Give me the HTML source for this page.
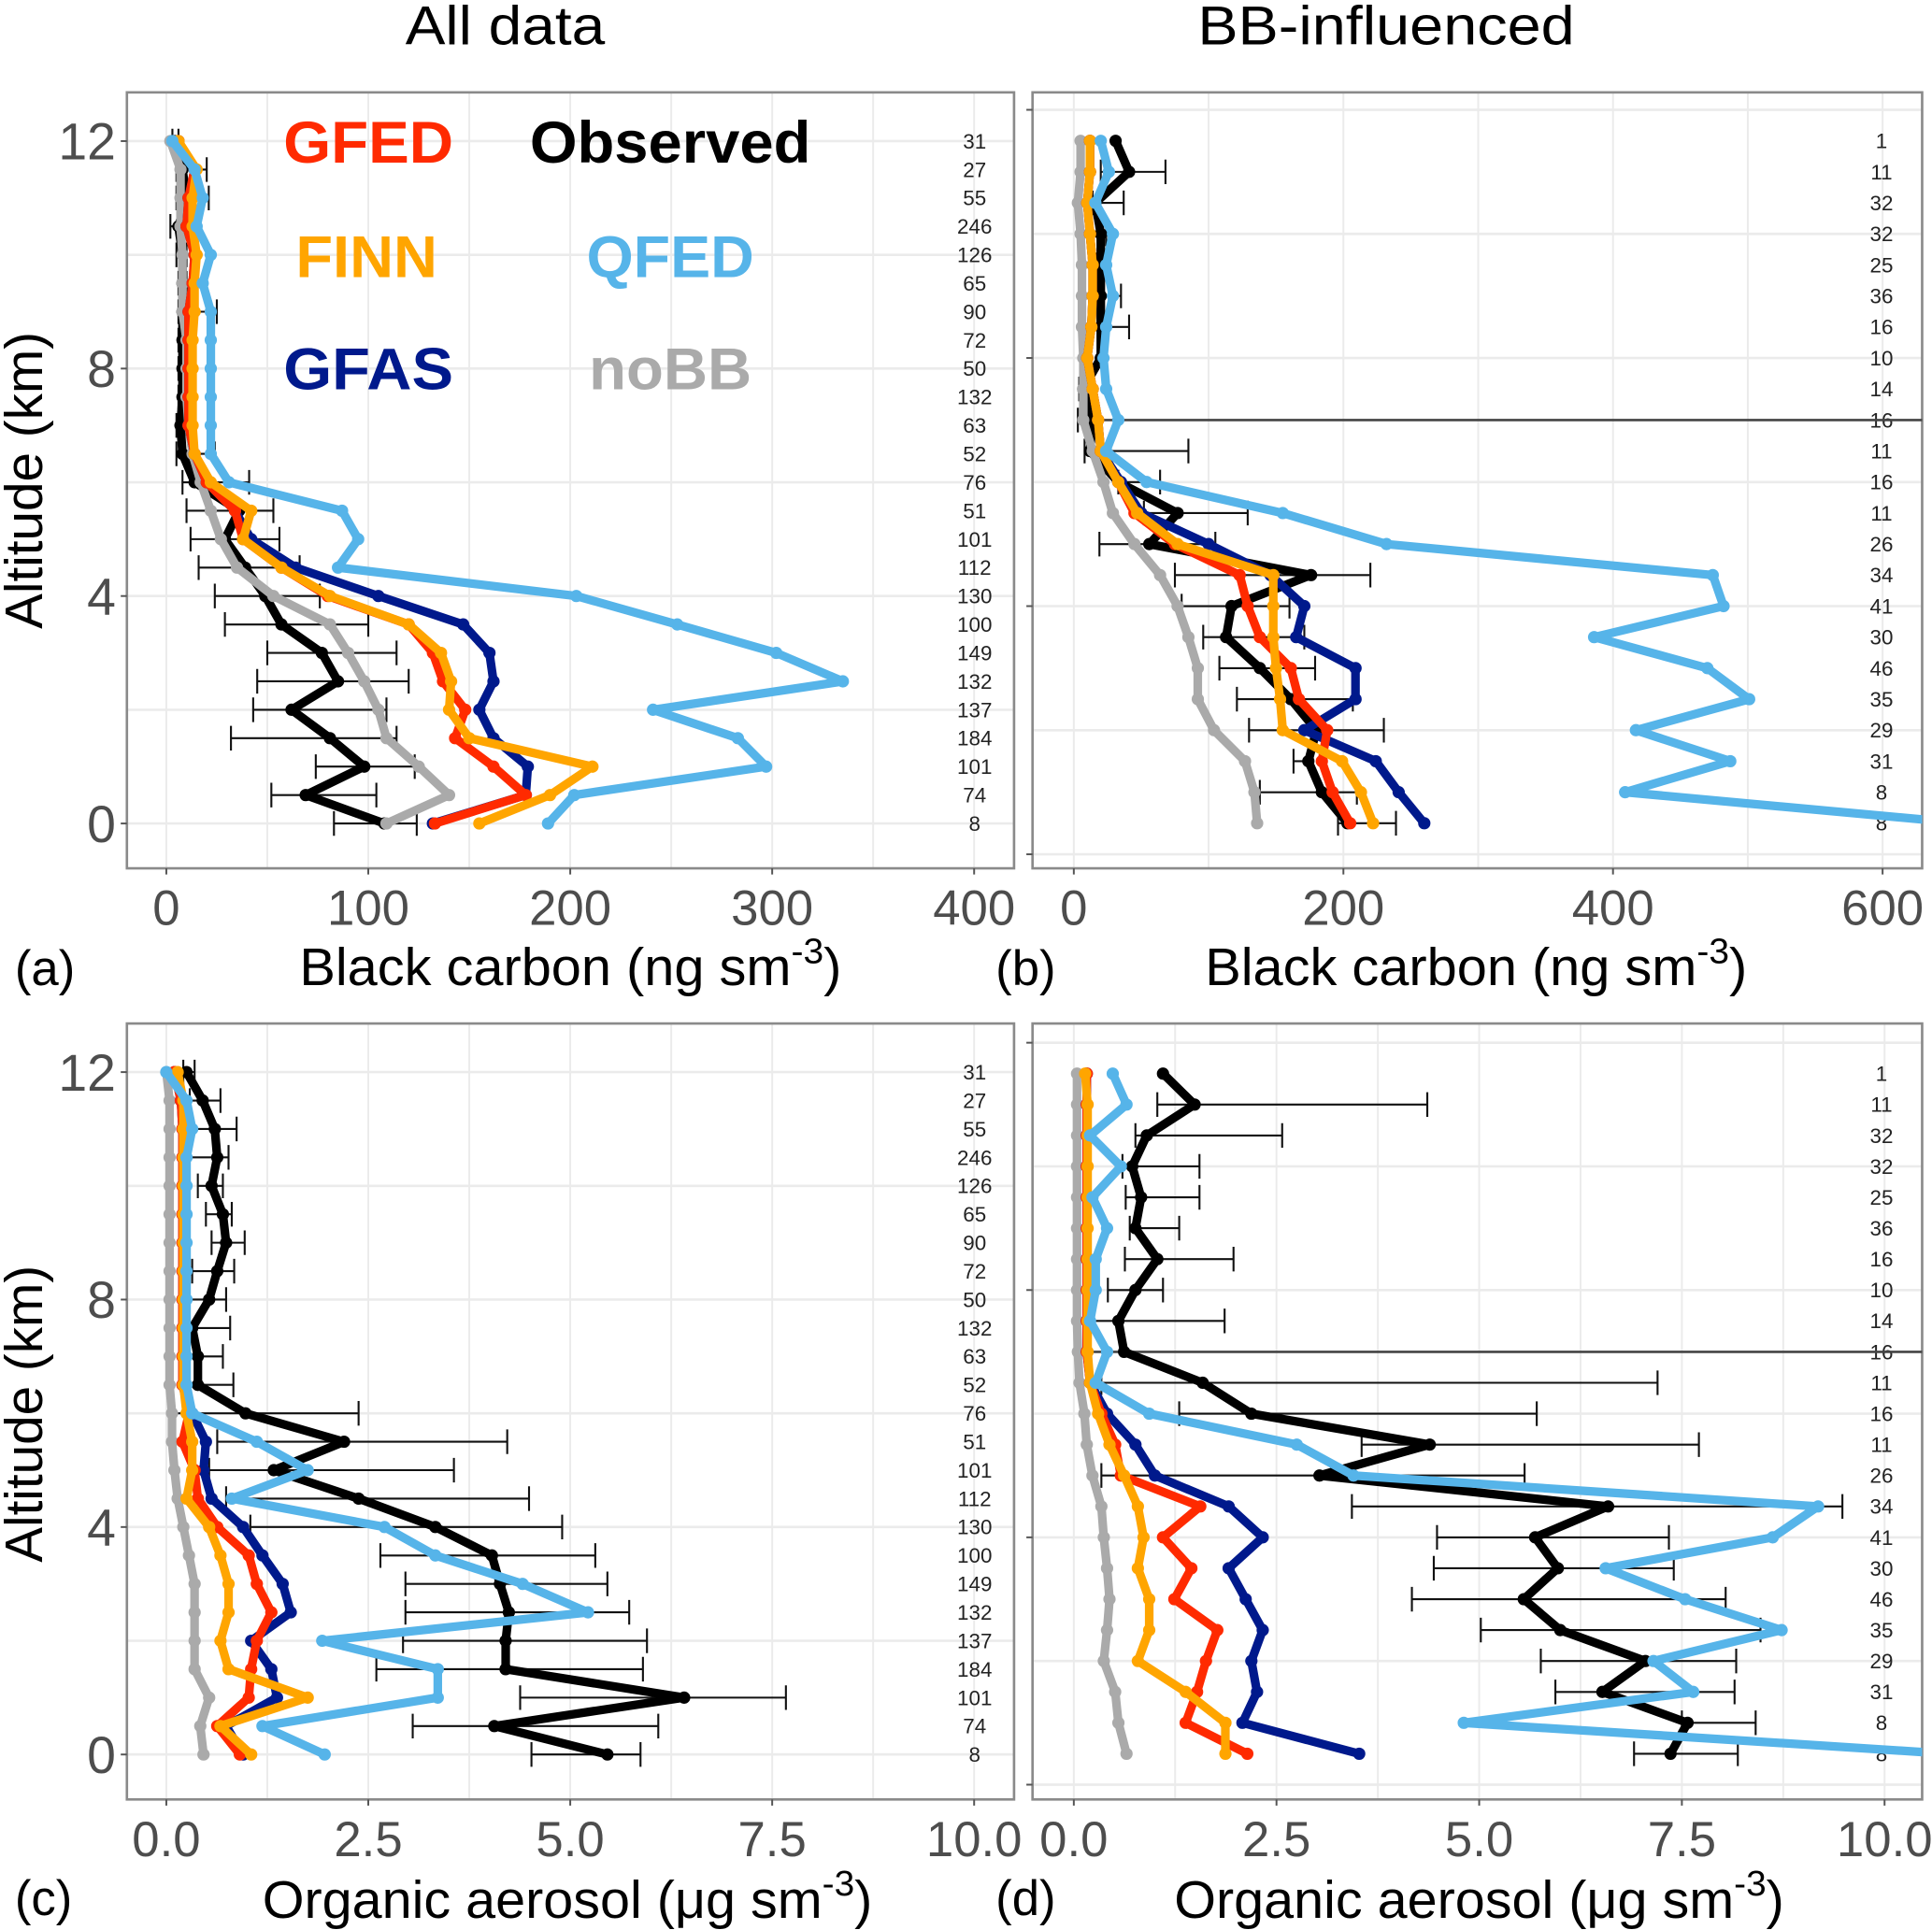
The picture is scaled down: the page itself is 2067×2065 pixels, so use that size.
<!DOCTYPE html>
<html><head><meta charset="utf-8">
<style>
html,body{margin:0;padding:0;background:#fff;}
svg{display:block;font-family:"Liberation Sans",sans-serif;}
</style></head>
<body>
<svg id="fig" width="2067" height="2065" viewBox="0 0 1568 1567" preserveAspectRatio="none" xmlns="http://www.w3.org/2000/svg">
<text x="410" y="36" font-size="44" text-anchor="middle" textLength="162" lengthAdjust="spacingAndGlyphs">All data</text>
<text x="1125" y="36" font-size="44" text-anchor="middle" textLength="306" lengthAdjust="spacingAndGlyphs">BB-influenced</text>
<g id="layer"></g>
</svg>
<script>
// ---------- data: altitudes ----------
const altA = [12,11.5,11,10.5,10,9.5,9,8.5,8,7.5,7,6.5,6,5.5,5,4.5,4,3.5,3,2.5,2,1.5,1,0.5,0];
const altB = [11.5,11,10.5,10,9.5,9,8.5,8,7.5,7,6.5,6,5.5,5,4.5,4,3.5,3,2.5,2,1.5,1,0.5];
const countsA = [31,27,55,246,126,65,90,72,50,132,63,52,76,51,101,112,130,100,149,132,137,184,101,74,8];
const countsB = [1,11,32,32,25,36,16,10,14,16,11,16,11,26,34,41,30,46,35,29,31,8,8];

// ---------- panel a: BC all data ----------
const aObs  = [4,8,10,6,8,8,8,8,8,8,7,8,14,36,29,39,49,57,77,85,62,81,98,69,108];
const aLo   = [3,5,5,2,5,6,6,6,6,6,5,5,8,10,12,16,24,29,50,45,43,32,74,52,83];
const aHi   = [6,20,21,10,10,10,25,12,10,10,9,24,41,53,56,66,76,100,114,120,109,114,123,104,124];
const aGFED = [6,14,11,10,14,13,11,11,11,11,11,14,20,34,38,57,80,120,132,137,148,143,162,178,133];
const aGFAS = [6,14,11,10,14,13,11,11,11,11,11,14,20,34,42,64,105,147,160,162,155,162,179,178,132];
const aFINN = [6,15,13,13,15,14,14,13,13,13,13,14,22,42,38,57,81,120,136,141,140,150,211,190,155];
const aQFED = [3,14,18,15,22,18,22,22,22,22,22,22,31,87,95,85,203,253,302,335,241,283,297,202,189];
const aNoBB = [2,7,7,7,8,8,8,10,10,10,11,13,17,22,27,35,53,81,90,98,105,109,125,140,109];

// ---------- panel b: BC BB-influenced ----------
const bObs  = [31,41,16,20,20,20,20,20,7,14,12,33,77,56,176,117,113,138,161,180,174,184,203];
const bLo   = [31,20,14,18,17,20,20,18,4,3,8,33,52,19,75,80,96,108,121,130,163,138,196];
const bHi   = [31,68,37,24,23,35,41,22,9,14,85,64,129,105,220,160,171,179,207,230,176,210,239];
const bGFED = [12,12,10,12,14,14,13,10,14,18,20,33,45,75,123,129,138,161,167,188,184,192,205];
const bGFAS = [12,12,10,12,14,14,13,10,14,18,20,35,50,100,146,171,165,209,209,171,224,241,260];
const bFINN = [12,12,10,12,14,14,13,10,14,18,20,33,47,77,148,148,148,150,153,155,199,213,222];
const bQFED = [20,26,16,29,24,29,24,22,24,33,24,54,155,232,474,482,386,470,501,417,487,409,660];
const bNoBB = [5,5,3,5,6,6,6,7,7,7,14,22,29,45,64,77,85,92,92,104,127,134,136];

// ---------- panel c: OA all data ----------
const cObs  = [0.25,0.45,0.6,0.63,0.56,0.7,0.74,0.63,0.53,0.32,0.39,0.39,0.98,2.2,1.33,2.38,3.33,4.03,4.13,4.24,4.2,4.2,6.41,4.06,5.46];
const cLo   = [0.21,0.29,0.28,0.28,0.39,0.49,0.56,0.32,0.28,0.28,0.25,0.28,0.04,0.63,0.53,0.74,1.04,2.65,2.96,2.96,2.93,2.6,4.38,3.05,4.52];
const cHi   = [0.35,0.67,0.87,0.77,0.7,0.81,0.97,0.84,0.74,0.79,0.7,0.83,2.38,4.22,3.56,4.49,4.9,5.31,5.46,5.73,5.95,5.9,7.67,6.09,5.87];
const cGFED = [0.1,0.18,0.2,0.2,0.2,0.2,0.2,0.2,0.2,0.2,0.2,0.2,0.28,0.2,0.35,0.39,0.63,1.02,1.12,1.3,1.12,1.05,1.02,0.63,0.91];
const cGFAS = [0.1,0.18,0.2,0.2,0.2,0.2,0.2,0.2,0.2,0.2,0.2,0.2,0.32,0.49,0.46,0.56,0.95,1.19,1.44,1.54,1.05,1.3,1.37,0.74,0.95];
const cFINN = [0.14,0.21,0.21,0.21,0.21,0.21,0.21,0.21,0.21,0.21,0.21,0.21,0.25,0.32,0.32,0.25,0.53,0.67,0.77,0.77,0.67,0.77,1.75,0.67,1.05];
const cQFED = [0.0,0.25,0.32,0.25,0.25,0.25,0.25,0.25,0.25,0.25,0.25,0.25,0.32,1.12,1.75,0.81,2.7,3.33,4.41,5.22,1.93,3.36,3.36,1.19,1.96];
const cNoBB = [0.0,0.04,0.04,0.04,0.04,0.04,0.04,0.04,0.04,0.04,0.04,0.04,0.07,0.07,0.1,0.14,0.21,0.28,0.35,0.35,0.35,0.35,0.53,0.42,0.46];

// ---------- panel d: OA BB-influenced ----------
const dObs  = [1.1,1.49,0.9,0.72,0.83,0.76,1.03,0.76,0.55,0.62,1.59,2.19,4.39,3.03,6.59,5.69,5.97,5.55,6.0,7.05,6.52,7.57,7.36];
const dLo   = [1.1,1.03,0.76,0.6,0.64,0.69,0.63,0.42,0.23,0.62,0.34,1.3,3.55,0.34,3.43,4.48,4.44,4.17,5.02,5.76,5.94,7.5,6.91];
const dHi   = [1.1,4.36,2.57,1.55,1.55,1.3,1.97,1.1,1.86,0.62,7.2,5.71,7.71,5.56,9.48,7.34,7.4,8.04,8.47,8.17,8.15,8.41,8.19];
const dGFED = [0.16,0.16,0.16,0.16,0.16,0.16,0.16,0.16,0.16,0.16,0.2,0.34,0.51,0.58,1.56,1.1,1.45,1.24,1.77,1.63,1.52,1.38,2.14];
const dGFAS = [0.16,0.16,0.16,0.16,0.16,0.16,0.16,0.16,0.16,0.16,0.2,0.41,0.76,1.0,1.91,2.33,1.91,2.12,2.33,2.19,2.26,2.08,3.52];
const dFINN = [0.14,0.17,0.17,0.17,0.17,0.17,0.17,0.17,0.17,0.17,0.2,0.3,0.44,0.62,0.79,0.86,0.79,0.93,0.93,0.79,1.38,1.87,1.87];
const dQFED = [0.48,0.65,0.2,0.58,0.23,0.41,0.27,0.27,0.2,0.41,0.27,0.93,2.75,3.45,9.18,8.62,6.56,7.54,8.73,7.15,7.64,4.81,10.8];
const dNoBB = [0.04,0.04,0.04,0.04,0.04,0.04,0.04,0.04,0.04,0.05,0.07,0.13,0.16,0.23,0.34,0.37,0.41,0.44,0.41,0.37,0.51,0.55,0.65];

const xTicksBC_A = [0,100,200,300,400];
const xTicksBC_B = [0,200,400,600];
const xTicksOA = [0,2.5,5,7.5,10];
const yTicks = [0,4,8,12];

const NS = "http://www.w3.org/2000/svg";
const layer = document.getElementById('layer');
function mk(tag, attrs, parent){
  const e = document.createElementNS(NS, tag);
  for (const k in attrs) e.setAttribute(k, attrs[k]);
  (parent||layer).appendChild(e);
  return e;
}
const COL = {obs:'#000000', gfed:'#ff2a00', gfas:'#00198c', finn:'#ffa500', qfed:'#56b4e9', nobb:'#aaaaaa'};

function panel(p){
  const g = mk('g', {});
  
  
  const xs = v => p.x0 + (v - p.v0) * p.kx;
  const ys = a => p.y0 - a * p.ky;
  const cp = mk('clipPath', {id:'clip-' + p.id}, g);
  mk('rect', {x:p.L, y:p.T, width:p.R-p.L, height:p.B-p.T}, cp);
  for (let v = p.gStart; v <= p.gEnd + 1e-9; v += p.gStep){
    const gl = mk('line', {x1:xs(v), x2:xs(v), y1:p.T, y2:p.B, stroke:'#ebebeb', 'stroke-width':1.5}, g);
    
    
  }
  for (let a = 0; a <= 12; a += 2){
    const yy = ys(a);
    if (yy < p.T || yy > p.B) continue;
    const gl = mk('line', {x1:p.L, x2:p.R, y1:yy, y2:yy, stroke:'#ebebeb', 'stroke-width':2}, g);
    
    
  }
  const box = mk('rect', {x:p.L, y:p.T, width:p.R-p.L, height:p.B-p.T, fill:'none', stroke:'#8a8a8a', 'stroke-width':2}, g);
  
  
  yTicks.forEach(a => {
    const yy = ys(a);
    mk('line', {x1:p.L-5, x2:p.L, y1:yy, y2:yy, stroke:'#555', 'stroke-width':1.5}, g);
    if (p.yLabels){
      const t = mk('text', {x:p.L-9, y:yy+15, 'font-size':42, fill:'#4d4d4d', 'text-anchor':'end'}, g);
      t.textContent = String(a);
      
      
    }
  });
  p.xTicks.forEach(v => {
    const xx = xs(v);
    mk('line', {x1:xx, x2:xx, y1:p.B, y2:p.B+5, stroke:'#555', 'stroke-width':1.5}, g);
    const t = mk('text', {x:xx, y:p.B+46, 'font-size':40, fill:'#4d4d4d', 'text-anchor':'middle'}, g);
    t.textContent = p.fmt(v);
    
    
  });
  p.counts.forEach((c, i) => {
    const t = mk('text', {x:p.cx, y:ys(p.alt[i]) + 6, 'font-size':17, fill:'#222', 'text-anchor':'middle'}, g);
    t.textContent = String(c);
    
    
  });
  const dg = mk('g', {'clip-path':'url(#clip-' + p.id + ')'}, g);
  if (p.hline !== undefined){
    const hl = mk('line', {x1:xs(p.hlineX), x2:p.R, y1:ys(p.hline), y2:ys(p.hline), stroke:'#444', 'stroke-width':2}, dg);
    
    
  }
  p.alt.forEach((a, i) => {
    if (p.hi[i] - p.lo[i] < 1e-6) return;
    const yy = ys(a), x1 = xs(p.lo[i]), x2 = xs(p.hi[i]);
    const eb = mk('path', {d:`M${x1},${yy}H${x2}M${x1},${yy-10}V${yy+10}M${x2},${yy-10}V${yy+10}`, stroke:'#111', 'stroke-width':1.6, fill:'none'}, dg);
    
    
  });
  const series = [['observed', p.obs, COL.obs], ['nobb', p.nobb, COL.nobb], ['gfas', p.gfas, COL.gfas], ['gfed', p.gfed, COL.gfed], ['finn', p.finn, COL.finn], ['qfed', p.qfed, COL.qfed]];
  series.forEach(([nm, vals, col]) => {
    const sg = mk('g', {}, dg);
    
    
    const pts = vals.map((v, i) => xs(v).toFixed(1) + ',' + ys(p.alt[i]).toFixed(1)).join(' ');
    const pl = mk('polyline', {points:pts, fill:'none', stroke:col, 'stroke-width':7, 'stroke-linejoin':'round', 'stroke-linecap':'round'}, sg);
    
    
    vals.forEach((v, i) => {
      const c = mk('circle', {cx:xs(v), cy:ys(p.alt[i]), r:5, fill:col}, sg);
      
      
    });
  });
}

const fmtInt = v => String(v);
const fmtOA = v => v.toFixed(1);
panel({id:'a', L:103, R:823, T:75, B:705, x0:135, v0:0, kx:1.639, y0:668.6, ky:46.17,
  gStart:0, gEnd:400, gStep:50, xTicks:xTicksBC_A, fmt:fmtInt, yLabels:true, cx:791,
  alt:altA, counts:countsA, obs:aObs, lo:aLo, hi:aHi, gfed:aGFED, gfas:aGFAS, finn:aFINN, qfed:aQFED, nobb:aNoBB});
panel({id:'b', L:838, R:1560, T:75, B:705, x0:871.5, v0:0, kx:1.094, y0:693.6, ky:50.37,
  gStart:0, gEnd:600, gStep:100, xTicks:xTicksBC_B, fmt:fmtInt, yLabels:false, cx:1527,
  alt:altB, counts:countsB, obs:bObs, lo:bLo, hi:bHi, gfed:bGFED, gfas:bGFAS, finn:bFINN, qfed:bQFED, nobb:bNoBB, hline:7, hlineX:3});
panel({id:'c', L:103, R:823, T:831, B:1461, x0:135, v0:0, kx:65.56, y0:1424.5, ky:46.17,
  gStart:0, gEnd:10, gStep:1.25, xTicks:xTicksOA, fmt:fmtOA, yLabels:true, cx:791,
  alt:altA, counts:countsA, obs:cObs, lo:cLo, hi:cHi, gfed:cGFED, gfas:cGFAS, finn:cFINN, qfed:cQFED, nobb:cNoBB});
panel({id:'d', L:838, R:1560, T:831, B:1461, x0:871.5, v0:0, kx:65.8, y0:1449, ky:50.2,
  gStart:0, gEnd:10, gStep:1.25, xTicks:xTicksOA, fmt:fmtOA, yLabels:false, cx:1527,
  alt:altB, counts:countsB, obs:dObs, lo:dLo, hi:dHi, gfed:dGFED, gfas:dGFAS, finn:dFINN, qfed:dQFED, nobb:dNoBB, hline:7, hlineX:0.05});

const legend = [['GFED', COL.gfed, 230, 132, 138], ['Observed', COL.obs, 430, 132, 228], ['FINN', COL.finn, 240, 225, 115], ['QFED', COL.qfed, 476, 225, 136], ['GFAS', COL.gfas, 230, 316, 138], ['noBB', COL.nobb, 478, 316, 132]];
legend.forEach(([t, c, x, y, w]) => {
  const e = mk('text', {x:x, y:y, 'font-size':48, 'font-weight':'bold', fill:c, textLength:w, lengthAdjust:'spacingAndGlyphs'});
  e.textContent = t;
  
  
});

function txt(s, attrs, name){
  const e = mk('text', attrs);
  e.innerHTML = s;
  
  
  return e;
}
const bcT = 'Black  carbon (ng sm<tspan dy="-18" font-size="29">-3</tspan><tspan dy="18">)</tspan>';
const oaT = 'Organic aerosol (μg sm<tspan dy="-18" font-size="29">-3</tspan><tspan dy="18">)</tspan>';
txt(bcT, {x:243, y:800, 'font-size':43, textLength:440, lengthAdjust:'spacingAndGlyphs'}, 'x-axis-title-a');
txt(bcT, {x:978, y:800, 'font-size':43, textLength:440, lengthAdjust:'spacingAndGlyphs'}, 'x-axis-title-b');
txt(oaT, {x:213, y:1557, 'font-size':43, textLength:495, lengthAdjust:'spacingAndGlyphs'}, 'x-axis-title-c');
txt(oaT, {x:953, y:1557, 'font-size':43, textLength:495, lengthAdjust:'spacingAndGlyphs'}, 'x-axis-title-d');
txt('(a)', {x:12, y:800, 'font-size':40}, 'panel-label-a');
txt('(b)', {x:808, y:800, 'font-size':40}, 'panel-label-b');
txt('(c)', {x:12, y:1555, 'font-size':40}, 'panel-label-c');
txt('(d)', {x:808, y:1555, 'font-size':40}, 'panel-label-d');
txt('Altitude (km)', {x:0, y:0, 'font-size':43, 'text-anchor':'middle', transform:'translate(34,390) rotate(-90)'}, 'y-axis-title-a');
txt('Altitude (km)', {x:0, y:0, 'font-size':43, 'text-anchor':'middle', transform:'translate(34,1148) rotate(-90)'}, 'y-axis-title-c');
</script>
</body></html>
